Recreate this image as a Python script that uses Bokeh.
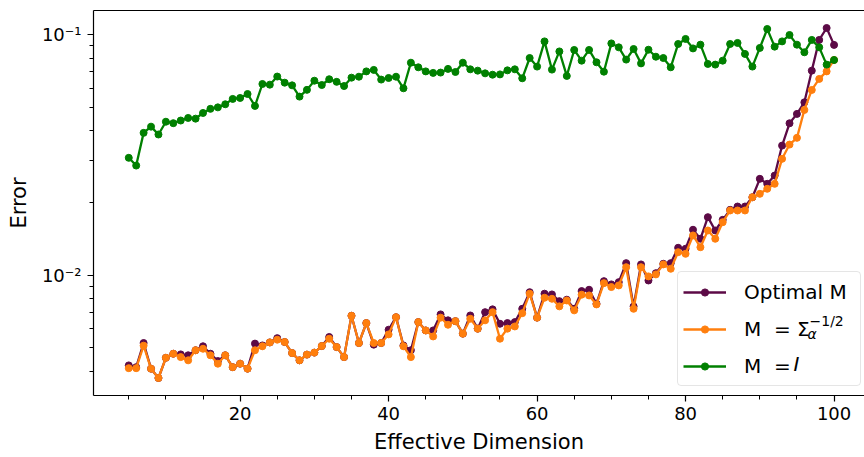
import numpy as np
from bokeh.plotting import figure
from bokeh.models import (Range1d, FixedTicker, LinearAxis, Legend, LegendItem, Label)
from bokeh.embed import file_html
from bokeh.resources import INLINE

# Effective dimension of the problem
dims = list(range(5, 101))

# Error with the optimal preconditioner M
err_optimal = [
    0.00423, 0.00416, 0.00524, 0.00410, 0.00375, 0.00455, 0.00473, 0.00470, 0.00466, 0.00489,
    0.00508, 0.00473, 0.00441, 0.00466, 0.00416, 0.00430, 0.00410, 0.00521, 0.00512, 0.00527,
    0.00549, 0.00529, 0.00476, 0.00444, 0.00469, 0.00478, 0.00509, 0.00555, 0.00504, 0.00458,
    0.00680, 0.00524, 0.00634, 0.00516, 0.00524, 0.00595, 0.00671, 0.00512, 0.00489, 0.00640,
    0.00591, 0.00591, 0.00689, 0.00651, 0.00646, 0.00573, 0.00682, 0.00601, 0.00704, 0.00723,
    0.00630, 0.00634, 0.00640, 0.00727, 0.00852, 0.00668, 0.00840, 0.00834, 0.00782, 0.00793,
    0.00727, 0.00861, 0.00872, 0.00763, 0.00947, 0.00918, 0.00938, 0.01125, 0.00744, 0.01111,
    0.00953, 0.01022, 0.01118, 0.01125, 0.01303, 0.01291, 0.01548, 0.01420, 0.01746, 0.01537,
    0.01702, 0.01873, 0.01933, 0.01933, 0.02113, 0.02519, 0.02402, 0.02599, 0.03462, 0.04285,
    0.04688, 0.05237, 0.07090, 0.09510, 0.10660, 0.09070,
]

# Error with M = Sigma_alpha^(-1/2)
err_sigma = [
    0.00412, 0.00412, 0.00511, 0.00410, 0.00375, 0.00455, 0.00473, 0.00458, 0.00444, 0.00489,
    0.00496, 0.00466, 0.00430, 0.00466, 0.00416, 0.00430, 0.00410, 0.00489, 0.00508, 0.00527,
    0.00541, 0.00529, 0.00476, 0.00444, 0.00469, 0.00478, 0.00509, 0.00546, 0.00504, 0.00458,
    0.00680, 0.00524, 0.00634, 0.00524, 0.00524, 0.00569, 0.00671, 0.00508, 0.00458, 0.00640,
    0.00591, 0.00558, 0.00668, 0.00624, 0.00646, 0.00573, 0.00661, 0.00601, 0.00651, 0.00704,
    0.00546, 0.00601, 0.00614, 0.00697, 0.00840, 0.00668, 0.00808, 0.00800, 0.00744, 0.00787,
    0.00716, 0.00832, 0.00826, 0.00758, 0.00929, 0.00895, 0.00909, 0.01082, 0.00727, 0.01082,
    0.00991, 0.01010, 0.01111, 0.01066, 0.01249, 0.01230, 0.01466, 0.01310, 0.01537, 0.01420,
    0.01664, 0.01861, 0.01861, 0.01861, 0.02113, 0.02183, 0.02290, 0.02402, 0.03050, 0.03496,
    0.03728, 0.04870, 0.05895, 0.06550, 0.07040, 0.07850,
]

# Error with M = I
err_identity = [
    0.0308, 0.0286, 0.0391, 0.0415, 0.0385, 0.0435, 0.0429, 0.0440, 0.0451, 0.0448,
    0.0473, 0.0492, 0.0499, 0.0514, 0.0541, 0.0546, 0.0567, 0.0506, 0.0624, 0.0620,
    0.0670, 0.0632, 0.0616, 0.0553, 0.0590, 0.0644, 0.0618, 0.0653, 0.0637, 0.0612,
    0.0663, 0.0669, 0.0704, 0.0714, 0.0651, 0.0661, 0.0669, 0.0599, 0.0765, 0.0732,
    0.0704, 0.0694, 0.0696, 0.0721, 0.0700, 0.0765, 0.0718, 0.0709, 0.0691, 0.0682,
    0.0684, 0.0711, 0.0718, 0.0659, 0.0800, 0.0737, 0.0938, 0.0716, 0.0852, 0.0674,
    0.0864, 0.0780, 0.0864, 0.0768, 0.0702, 0.0920, 0.0886, 0.0788, 0.0872, 0.0760,
    0.0866, 0.0810, 0.0800, 0.0732, 0.0915, 0.0960, 0.0877, 0.0909, 0.0756, 0.0751,
    0.0780, 0.0915, 0.0924, 0.0832, 0.0737, 0.0881, 0.1056, 0.0892, 0.0938, 0.0997,
    0.0909, 0.0845, 0.0951, 0.0886, 0.0751, 0.0785,
]

x_major = [20, 40, 60, 80, 100]
x_minor = list(range(5, 105, 5))
y_major = [0.01, 0.1]
y_major_labels = {0.01: "10\u207b\u00b2", 0.1: "10\u207b\u00b9"}
y_minor = [0.004, 0.005, 0.006, 0.007, 0.008, 0.009,
           0.02, 0.03, 0.04, 0.05, 0.06, 0.07, 0.08, 0.09]

C_OPT = "#5c0a46"
C_SIG = "#ff7f0e"
C_ID = "#008000"
FONT = "DejaVu Sans"

# log-space padding of 5% around the data
all_vals = err_optimal + err_sigma + err_identity
lo, hi = np.log10(min(all_vals)), np.log10(max(all_vals))
pad = 0.05 * (hi - lo)

p = figure(width=864, height=457,
           x_range=Range1d(0.25, 104.1),
           y_range=Range1d(10 ** (lo - pad), 10 ** (hi + pad)),
           y_axis_type="log",
           output_backend="svg", toolbar_location=None,
           min_border_left=93, min_border_right=0,
           min_border_top=10, min_border_bottom=62)

p.background_fill_color = "white"
p.border_fill_color = "white"
p.outline_line_color = None
p.xgrid.visible = False
p.ygrid.visible = False

renderers = []
for vals, col in [(err_optimal, C_OPT), (err_sigma, C_SIG), (err_identity, C_ID)]:
    ln = p.line(dims, vals, line_color=col, line_width=2.3)
    sc = p.scatter(dims, vals, size=7, fill_color=col, line_color=col)
    renderers.append([ln, sc])

# axes
for ax in (p.xaxis[0], p.yaxis[0]):
    ax.axis_line_color = "black"
    ax.axis_line_width = 1.2
    ax.major_tick_line_color = "black"
    ax.minor_tick_line_color = "black"
    ax.major_tick_line_width = 1.2
    ax.minor_tick_line_width = 1.0
    ax.major_tick_in = 0
    ax.major_tick_out = 6
    ax.minor_tick_in = 0
    ax.minor_tick_out = 4
    ax.major_label_text_font = FONT
    ax.major_label_text_font_size = "18px"
    ax.major_label_text_color = "black"
    ax.axis_label_text_font = FONT
    ax.axis_label_text_font_size = "21px"
    ax.axis_label_text_font_style = "normal"
    ax.axis_label_text_color = "black"

p.xaxis.ticker = FixedTicker(ticks=x_major, minor_ticks=x_minor)
p.yaxis.ticker = FixedTicker(ticks=y_major, minor_ticks=y_minor)
p.yaxis.major_label_overrides = y_major_labels
p.xaxis.axis_label = "Effective Dimension"
p.yaxis.axis_label = "Error"
p.xaxis.major_label_standoff = 5
p.yaxis.major_label_standoff = 6
p.xaxis.axis_label_standoff = 7
p.yaxis.axis_label_standoff = 8

# top spine
top = LinearAxis(ticker=FixedTicker(ticks=[]), major_tick_out=0, minor_tick_out=0,
                 major_label_text_font_size="0px", axis_line_color="black",
                 axis_line_width=1.2)
p.add_layout(top, "above")

legend = Legend(
    items=[LegendItem(label="Optimal M", renderers=renderers[0]),
           LegendItem(label="M  = \u03a3", renderers=renderers[1]),
           LegendItem(label="M  = ", renderers=renderers[2])],
    location=(584, 9), margin=0, padding=5, spacing=8,
    label_height=29, glyph_width=43, glyph_height=18, label_standoff=18,
    label_width=111, label_text_font=FONT, label_text_font_size="20px",
    label_text_color="black", border_line_color="#cccccc", border_line_width=1,
    border_radius=4, background_fill_color=None,
)
p.add_layout(legend)

# sub/superscripts and italic symbol inside the legend labels
p.add_layout(Label(x=714, y=62, x_units="screen", y_units="screen", text="\u03b1",
                   text_font=FONT, text_font_size="14px", text_font_style="italic",
                   text_baseline="middle", text_color="black", level="overlay"))
p.add_layout(Label(x=716, y=75, x_units="screen", y_units="screen", text="\u22121/2",
                   text_font=FONT, text_font_size="14px",
                   text_baseline="middle", text_color="black", level="overlay"))
p.add_layout(Label(x=700, y=32, x_units="screen", y_units="screen", text="I",
                   text_font=FONT, text_font_size="20px", text_font_style="italic",
                   text_baseline="middle", text_color="black", level="overlay"))

open("out.html", "w").write(file_html(p, INLINE))
